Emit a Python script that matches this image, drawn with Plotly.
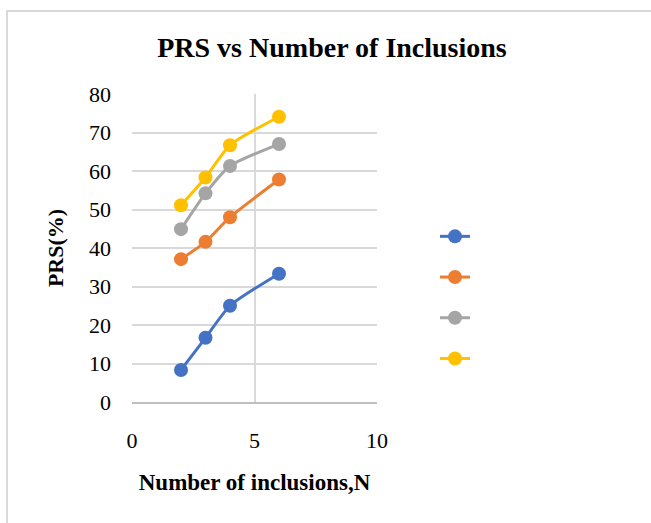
import plotly.graph_objects as go

# Number of inclusions (N) and PRS (%) for each series
n_inclusions = [2, 3, 4, 6]
prs_series_1 = [8.33, 16.67, 25.0, 33.33]
prs_series_2 = [37.1, 41.6, 48.0, 57.8]
prs_series_3 = [44.9, 54.2, 61.3, 67.0]
prs_series_4 = [51.1, 58.3, 66.7, 74.1]
series_colors = ["#4472C4", "#ED7D31", "#A5A5A5", "#FFC000"]

x_ticks = [0, 5, 10]
y_ticks = [0, 10, 20, 30, 40, 50, 60, 70, 80]

SERIF = "Liberation Serif, Times New Roman, serif"

fig = go.Figure()
for vals, col in zip([prs_series_1, prs_series_2, prs_series_3, prs_series_4], series_colors):
    fig.add_trace(go.Scatter(
        x=n_inclusions, y=vals, name=" ",
        mode="lines+markers",
        line=dict(color=col, width=3, shape="spline", smoothing=0.6),
        marker=dict(color=col, size=14),
    ))

W, H = 651, 523
L, R, T, B = 132, 274, 94, 121
pw = W - L - R
ph = H - T - B

def px_x(p):
    return (p - L) / pw

def px_y(p):
    return (H - B - p) / ph

fig.update_layout(
    width=W, height=H,
    margin=dict(l=L, r=R, t=T, b=B),
    paper_bgcolor="white", plot_bgcolor="white",
    title=dict(text="<b>PRS vs Number of Inclusions</b>",
               font=dict(family=SERIF, size=28, color="black"),
               x=px_x(332), xref="paper", xanchor="center",
               y=1 - 47 / H, yref="container", yanchor="middle"),
    xaxis=dict(range=[0, 10], tickvals=x_ticks, showgrid=True,
               gridcolor="#d9d9d9", gridwidth=1.5, zeroline=False,
               showline=True, linecolor="#bfbfbf", linewidth=1.5,
               ticks="", ticklabelstandoff=18,
               tickfont=dict(family=SERIF, size=22, color="black"),
               title=dict(text="<b>Number of inclusions,N</b>", standoff=22,
                          font=dict(family=SERIF, size=23, color="black"))),
    yaxis=dict(range=[0, 80], tickvals=y_ticks, showgrid=True,
               gridcolor="#d9d9d9", gridwidth=1.5, zeroline=False,
               showline=False, ticks="", ticklabelstandoff=20,
               tickfont=dict(family=SERIF, size=22, color="black"),
               title=dict(text="<b>PRS(%)</b>", standoff=19,
                          font=dict(family=SERIF, size=22, color="black"))),
    showlegend=True,
    legend=dict(x=px_x(435), y=px_y(211), xanchor="left", yanchor="top",
                xref="paper", yref="paper",
                font=dict(family=SERIF, size=29), bgcolor="rgba(0,0,0,0)",
                itemwidth=30),
    shapes=[dict(type="rect", xref="paper", yref="paper",
                 x0=px_x(7), x1=px_x(W + 10), y0=px_y(H + 10), y1=px_y(11),
                 line=dict(color="#d9d9d9", width=2), fillcolor="rgba(0,0,0,0)",
                 layer="below")],
)

fig.write_html("out.html")
